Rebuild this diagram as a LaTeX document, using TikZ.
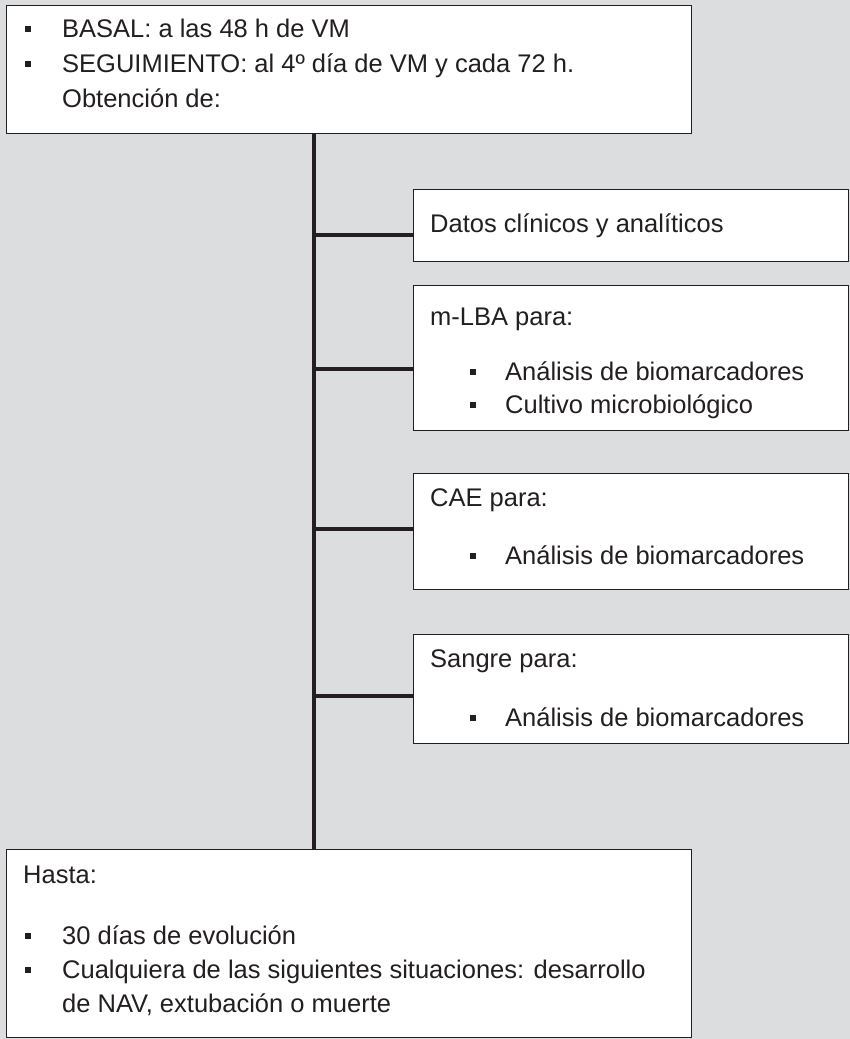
\documentclass[tikz,border=0pt]{standalone}
\usepackage{fontspec}
\setmainfont{Liberation Sans}
\definecolor{bg}{HTML}{DCDDDF}
\definecolor{ink}{HTML}{231F20}
\tikzset{
  box/.style={draw=ink, line width=1.3pt, fill=white, anchor=north west, inner sep=0pt},
  txt/.style={anchor=base west, inner sep=0pt, text=ink, font=\fontsize{25.5}{30}\selectfont},
  bul/.style={fill=ink, inner sep=0pt, minimum size=6.8pt},
  trunk/.style={draw=ink, line width=3.5pt},
  branch/.style={draw=ink, line width=3.2pt},
}
\begin{document}
\begin{tikzpicture}[x=1pt,y=-1pt]
\useasboundingbox (0,0) rectangle (850,1039);
\fill[bg] (0,0) rectangle (850,1039);
% boxes
\node[box, minimum width=685.5pt, minimum height=128.5pt] (top) at (5.5,4.5) {};
\node[box, minimum width=435pt, minimum height=72pt] (datos) at (413,189) {};
\node[box, minimum width=435pt, minimum height=145pt] (mlba) at (413,285) {};
\node[box, minimum width=435pt, minimum height=116pt] (cae) at (413,473) {};
\node[box, minimum width=435pt, minimum height=109pt] (sangre) at (413,634) {};
\node[box, minimum width=685pt, minimum height=188pt] (bottom) at (6,849) {};
% connectors
\coordinate (spine) at (314,0);
\draw[trunk] (top.south -| spine) -- (bottom.north -| spine);
\draw[branch] (spine |- 0,235) -- ([xshift=1pt]datos.west |- 0,235);
\draw[branch] (spine |- 0,369) -- ([xshift=1pt]mlba.west |- 0,369);
\draw[branch] (spine |- 0,529) -- ([xshift=1pt]cae.west |- 0,529);
\draw[branch] (spine |- 0,696) -- ([xshift=1pt]sangre.west |- 0,696);
% top box text
\node[bul] (tb1) at (28,29) {};
\node[txt] (tt1) at (62,37) {BASAL: a las 48 h de VM};
\node[bul] (tb2) at (28,64) {};
\node[txt] (tt2) at (62,72) {SEGUIMIENTO: al 4º día de VM y cada 72 h.};
\node[txt] (tt3) at (62,107) {Obtención de:};
% datos
\node[txt] (dt) at (430,232) {Datos clínicos y analíticos};
% m-LBA
\node[txt] (mt) at (430,325) {m-LBA para:};
\node[bul] (mb1) at (473,372) {};
\node[txt] (mt1) at (505,380) {Análisis de biomarcadores};
\node[bul] (mb2) at (473,405) {};
\node[txt] (mt2) at (505,413) {Cultivo microbiológico};
% CAE
\node[txt] (ct) at (430,506) {CAE para:};
\node[bul] (cb1) at (473,556) {};
\node[txt] (ct1) at (505,564) {Análisis de biomarcadores};
% Sangre
\node[txt] (st) at (430,667) {Sangre para:};
\node[bul] (sb1) at (473,718) {};
\node[txt] (st1) at (505,726) {Análisis de biomarcadores};
% bottom
\node[txt] (bt) at (23,883) {Hasta:};
\node[bul] (bb1) at (28,936) {};
\node[txt] (bt1) at (62,944) {30 días de evolución};
\node[bul] (bb2) at (28,970) {};
\node[txt] (bt2) at (62,978) {Cualquiera de las siguientes situaciones: desarrollo};
\node[txt] (bt3) at (62,1012) {de NAV, extubación o muerte};
\end{tikzpicture}
\end{document}
